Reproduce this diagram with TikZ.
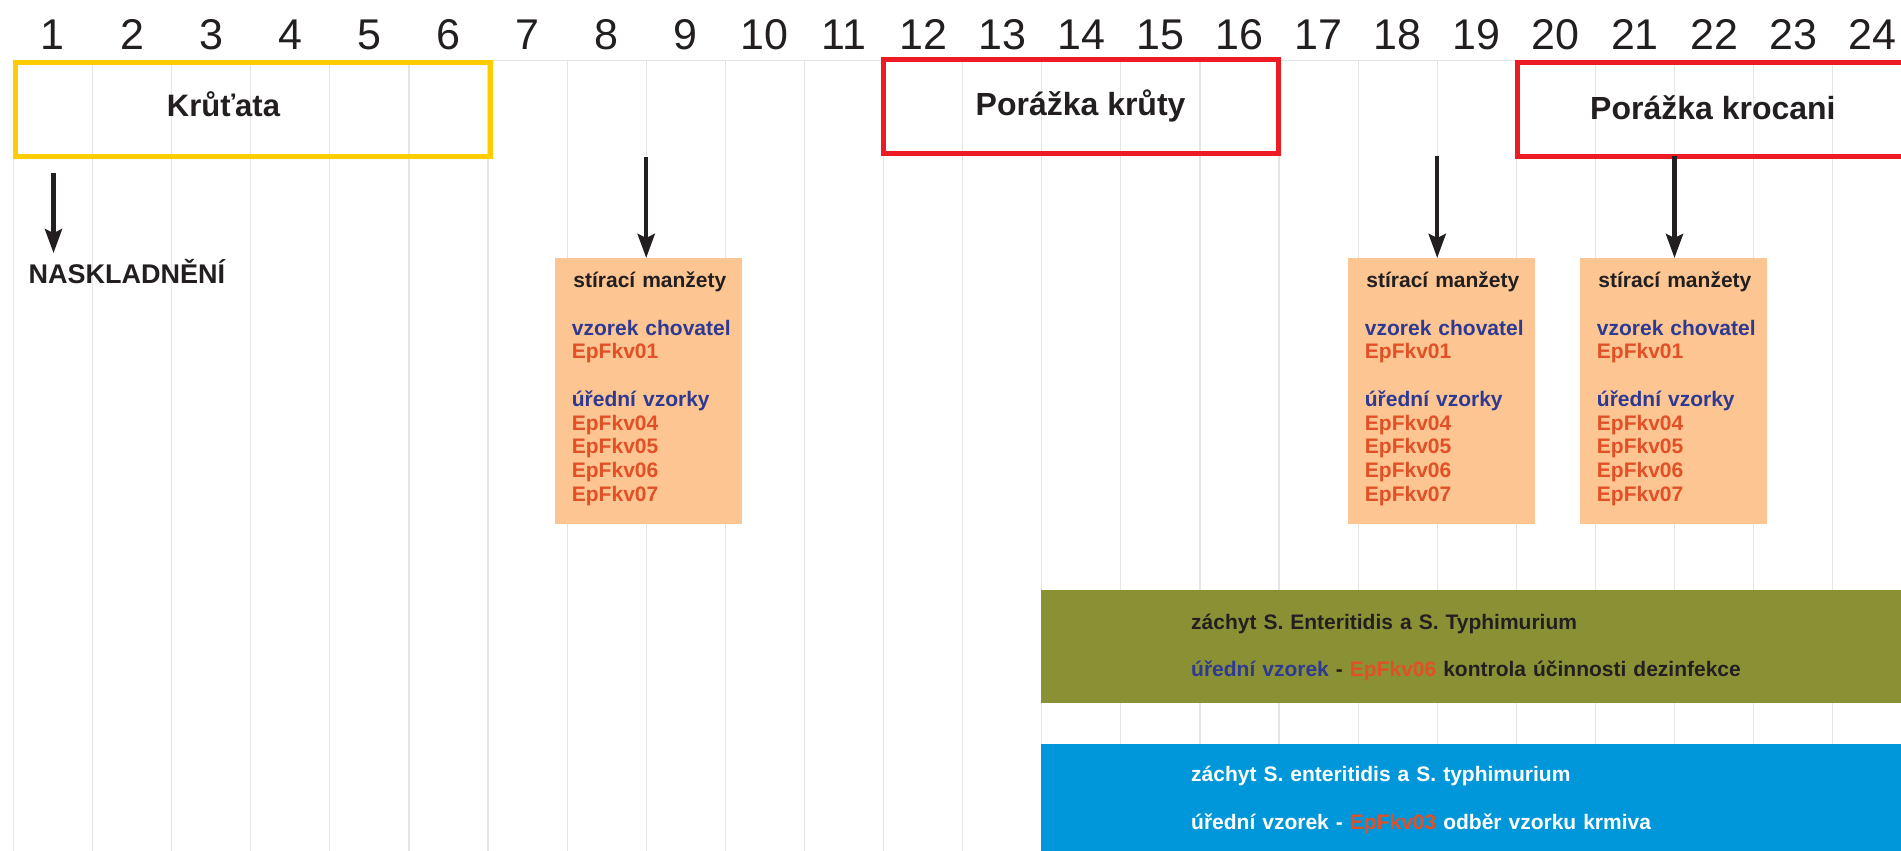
\documentclass[tikz,border=0pt]{standalone}
\usepackage{fontspec}
\setmainfont{Liberation Sans}
\usepackage{xcolor}
\usetikzlibrary{arrows.meta,positioning}

\definecolor{zluta}{RGB}{255,204,0}
\definecolor{cervena}{RGB}{237,28,36}
\definecolor{mrizka}{RGB}{229,229,229}
\definecolor{pastel}{RGB}{252,197,145}
\definecolor{modra}{RGB}{46,57,146}
\definecolor{kod}{RGB}{225,80,38}
\definecolor{cerna}{RGB}{35,31,32}
\definecolor{oliva}{RGB}{138,145,52}
\definecolor{azur}{RGB}{0,150,218}

\newcommand{\kod}[1]{\textcolor{kod}{#1}}
\newcommand{\vz}[1]{\textcolor{modra}{#1}}

\tikzset{
	sipka/.style={cerna, line width=4.5pt, -{Stealth[length=24pt, width=17pt, inset=4pt]}},
	ramec/.style={draw, line width=5pt, minimum height=94.3pt, inner sep=0pt},
	nadpis/.style={font=\fontsize{32}{38}\selectfont\bfseries, text=cerna, inner sep=0pt, anchor=base},
	cislo/.style={font=\fontsize{43}{50}\selectfont, text=cerna, inner sep=0pt, anchor=base},
	odber/.style={fill=pastel, minimum width=186.7pt, minimum height=266pt, inner sep=0pt, anchor=north west},
	odbertext/.style={font=\fontsize{21}{23.75}\selectfont\bfseries, text=kod, text width=172pt, align=left, inner sep=0pt, anchor=base west},
	pas/.style={minimum width=870pt, inner sep=0pt, anchor=north west},
	pastext/.style={font=\fontsize{21}{47.5}\selectfont\bfseries, text width=700pt, align=left, inner sep=0pt, anchor=base west}
}

\begin{document}
\begin{tikzpicture}[x=1pt, y=-1pt]
	\useasboundingbox (0,0) rectangle (1901,851);
	\fill[white] (0,0) rectangle (1901,851);
	% mrizka a dny
	\draw[mrizka, line width=1.2pt] (13.4,60.7) -- (1901,60.7);
	\foreach \k in {0,...,23}
		\draw[mrizka, line width=1.2pt] (13.4+79.1*\k,60.7) -- (13.4+79.1*\k,851);
	\foreach \k in {1,...,24}
		\node[cislo] (den\k) at (79.1*\k-26.15,49.3) {\k};

	% obdobi
	\node[ramec, draw=zluta, minimum width=474.4pt] (krutata) at (252.8,109.65) {};
	\node[nadpis, font=\fontsize{31}{37}\selectfont\bfseries] (krutatanapis) at (223.5,116.7) {Krůťata};
	\node[ramec, draw=cervena, minimum width=395.6pt] (porazka) at (1080.8,106.35) {};
	\node[nadpis] (porazkanapis) at (1080.6,115) {Porážka krůty};
	\node[ramec, draw=cervena, minimum width=420pt, anchor=west] (krocani) at (1515.2,109.25) {};
	\node[nadpis] (krocaninapis) at (1712.9,119.7) {Porážka krocani};

	\node[font=\fontsize{27}{32}\selectfont\bfseries, text=cerna, inner xsep=0pt, inner ysep=6pt, anchor=base west] (naskladneni) at (28.5,283.5) {NASKLADNĚNÍ};

	% odbery
	\foreach \x/\jm in {555/odber1, 1348/odber2, 1580/odber3} {
		\node[odber] (\jm) at (\x,258) {};
		\node[odbertext] (\jm-text) at (\x+16.7,287.5) {\makebox[156pt]{\textcolor{cerna}{stírací manžety}}\\[23.75pt]
			\vz{vzorek chovatel}\\ EpFkv01\\[23.75pt]
			\vz{úřední vzorky}\\ EpFkv04\\ EpFkv05\\ EpFkv06\\ EpFkv07};
	}

	\coordinate (s1) at (53.5,173);
	\coordinate (s2) at (646.2,157);
	\coordinate (s3) at (1437.2,156);
	\coordinate (s4) at (1674.5,156);
	\draw[sipka] (s1) -- (s1 |- naskladneni.north);
	\draw[sipka] (s2) -- (s2 |- odber1.north);
	\draw[sipka] (s3) -- (s3 |- odber2.north);
	\draw[sipka] (s4) -- (s4 |- odber3.north);

	% pasy
	\node[pas, fill=oliva, minimum height=113.4pt] (dezinfekce) at (1041,589.3) {};
	\node[pastext, text=cerna] (dezinfekcetext) at (1191,629.3) {záchyt S. Enteritidis a S. Typhimurium\\
		\vz{úřední vzorek} - \kod{EpFkv06} kontrola účinnosti dezinfekce};
	\node[pas, fill=azur, minimum height=120pt] (krmivo) at (1041,743.3) {};
	\node[pastext, text=white] (krmivotext) at (1191,781.7) {záchyt S. enteritidis a S. typhimurium\\
		úřední vzorek - \kod{EpFkv03} odběr vzorku krmiva};
\end{tikzpicture}
\end{document}
